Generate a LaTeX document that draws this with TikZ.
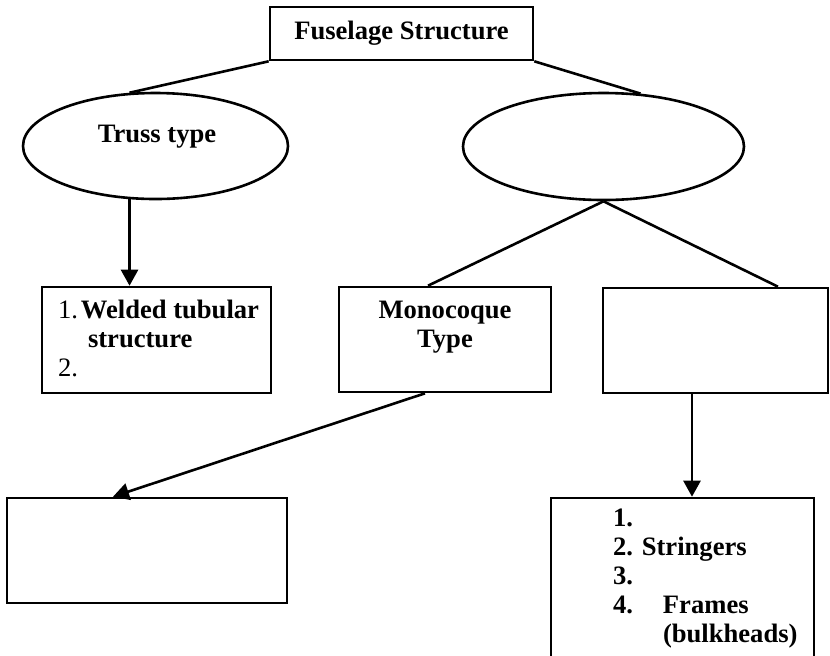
\documentclass[tikz,border=0pt]{standalone}
\usepackage{fontspec}
\setmainfont{Liberation Serif}
\usetikzlibrary{calc}
\usetikzlibrary{arrows.meta}
\usetikzlibrary{shapes.geometric}

\begin{document}
\begin{tikzpicture}[x=0.5pt,y=-0.5pt,line width=1.3pt,
  box/.style={draw,rectangle,inner sep=0pt},
  oval/.style={draw,ellipse,inner sep=0pt},
  txt/.style={inner sep=0pt,font=\bfseries\fontsize{13.3}{14.5}\selectfont},
  txtmd/.style={inner sep=0pt,font=\fontsize{13.3}{14.5}\selectfont},
  arr/.style={-{Triangle[length=8pt,width=8.5pt]}}]
  \useasboundingbox (0,0) rectangle (830,655);

  \node[box,txt,minimum width=131.5pt,minimum height=26.5pt] (fuselage) at (401.5,33.5) {Fuselage Structure};
  \node[oval,minimum width=132.5pt,minimum height=53pt] (truss) at (155.5,146) {};
  \node[oval,minimum width=140.5pt,minimum height=53.5pt] (semi) at (603.5,146.5) {};
  \node[box,minimum width=114.5pt,minimum height=53pt] (welded) at (156.5,340) {};
  \node[box,minimum width=106pt,minimum height=52.5pt] (mono) at (445,339.5) {};
  \node[box,minimum width=112.5pt,minimum height=52.5pt] (rbox) at (715.5,340.5) {};
  \node[box,minimum width=140pt,minimum height=52.5pt] (blbox) at (147,550.5) {};
  \node[box,minimum width=131.5pt,minimum height=83.5pt] (brbox) at (682.5,581.5) {};

  \node[txt,anchor=base] (trusstxt) at (157,142) {Truss type};
  \node[txt,align=center,anchor=north] (monotxt) at (445,300) {Monocoque\\Type};
  \node[txtmd,align=left,anchor=north west] (weldedtxt) at ($(welded.north west)+(16,13)$)
    {1.\hspace{1.5pt}\textbf{Welded tubular}\\\hspace*{15pt}\textbf{structure}\\2.};
  \node[txt,align=left,anchor=north west] (brtxt) at ($(brbox.north west)+(62,11)$)
    {1.\\2. Stringers\\3.\\\makebox[25pt][l]{4.}Frames\\\hspace*{25pt}(bulkheads)};

  \coordinate (monoin) at ($(mono.north)+(-17,0)$);
  \coordinate (rboxin) at ($(rbox.north)+(62.5,0)$);
  \coordinate (monoout) at ($(mono.south)+(-20,0)$);
  \coordinate (blboxin) at ($(blbox.north)+(-34,0)$);
  \coordinate (rboxout) at ($(rbox.south)+(-23.5,0)$);

  \draw (fuselage.south west) -- (truss.116);
  \draw (fuselage.south east) -- (semi.55);
  \draw[arr] (truss.-116) -- (truss.-116 |- welded.north);
  \draw (semi.south) -- (monoin);
  \draw (semi.south) -- (rboxin);
  \draw[arr] (monoout) -- (blboxin);
  \draw[arr] (rboxout) -- (rboxout |- brbox.north);
\end{tikzpicture}
\end{document}
